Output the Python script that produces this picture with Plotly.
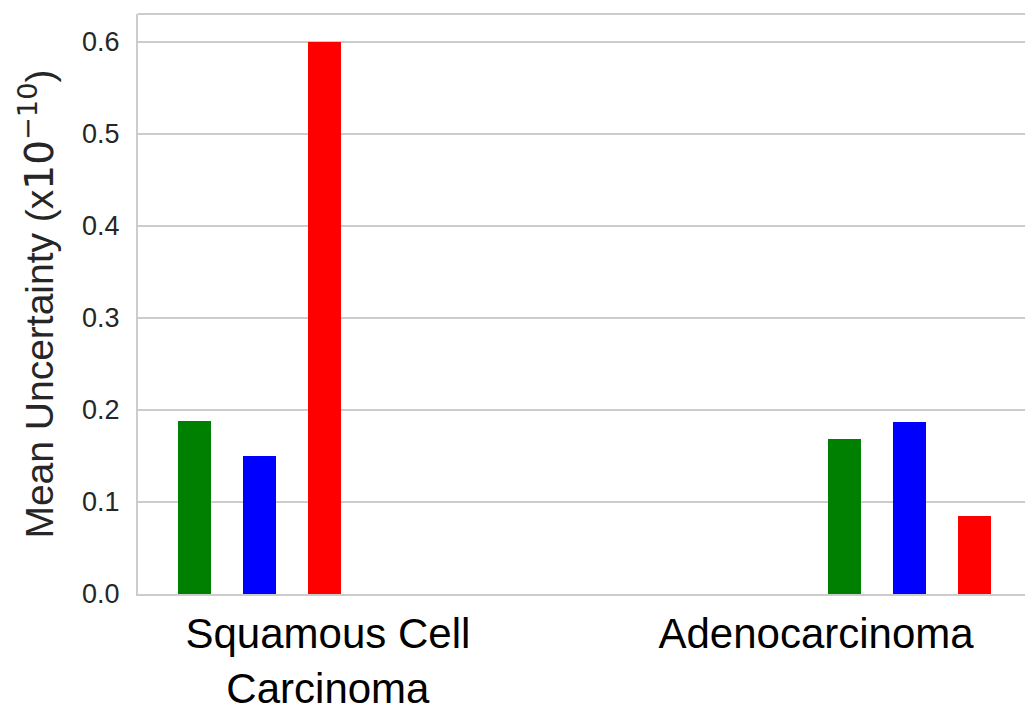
import plotly.graph_objects as go

categories = ["Squamous Cell<br>Carcinoma", "Adenocarcinoma"]
series_names = ["Green", "Blue", "Red"]
series_colors = ["#008000", "#0000ff", "#ff0000"]
green_values = [0.1874, 0.1689]
blue_values = [0.1504, 0.1863]
red_values = [0.6000, 0.0852]
y_ticks = [0.0, 0.1, 0.2, 0.3, 0.4, 0.5, 0.6]

# layout constants (bar placement relative to category ticks)
group_base = [-0.2736, 0.0584]
bar_step = 0.1332
bar_width = 0.0676

fig = go.Figure()
for k, (name, color, vals) in enumerate(zip(series_names, series_colors,
                                             [green_values, blue_values, red_values])):
    xs = [i + group_base[i] + k * bar_step for i in range(len(categories))]
    fig.add_trace(go.Bar(x=xs, y=vals, width=bar_width, marker=dict(color=color, line=dict(width=0)),
                         name=name, showlegend=False))

grid = "#cccccc"
fig.update_layout(
    width=1025, height=709,
    margin=dict(l=138, r=0, t=14, b=115, autoexpand=False),
    paper_bgcolor="white", plot_bgcolor="white",
    font=dict(family="Liberation Sans, Arial, sans-serif", color="#262626"),
    xaxis=dict(range=[-0.389, 1.428], tickvals=[0, 1], ticktext=categories, automargin=False,
               tickfont=dict(size=42, color="black"), showgrid=False, zeroline=False,
               showline=True, linecolor=grid, linewidth=2, ticks="", ticklabelstandoff=2),
    yaxis=dict(range=[0, 0.63], tickvals=y_ticks, ticktext=[f"{v:.1f}" for v in y_ticks],
               automargin=False,
               tickfont=dict(size=27, color="#262626"), showgrid=True, gridcolor=grid, gridwidth=2,
               zeroline=False, showline=True, linecolor=grid, linewidth=2, ticks="",
               ticklabelstandoff=11,
               title=dict(text="Mean Uncertainty (x<span style='font-family:DejaVu Sans'>10<sup>−10</sup></span>)",
                          font=dict(size=39, color="#262626"), standoff=16)),
    shapes=[dict(type="line", xref="paper", yref="paper", x0=0, x1=1, y0=1, y1=1,
                 line=dict(color=grid, width=2))],
    bargap=0,
)

fig.write_html("out.html")
